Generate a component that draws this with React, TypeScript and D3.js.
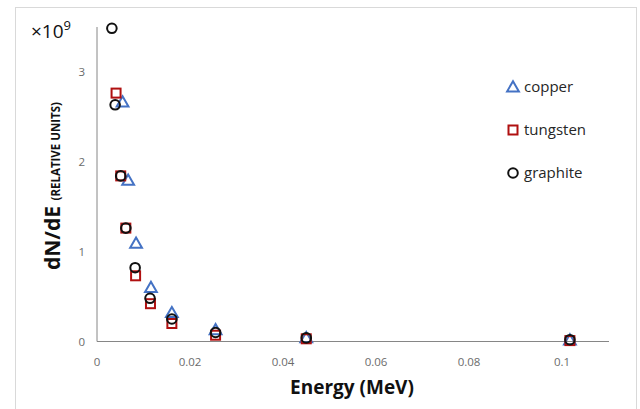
import React from "react";
import * as d3 from "d3";

const copperX = [0.0055, 0.0067, 0.0084, 0.0116, 0.0161, 0.0255, 0.045, 0.1017];
const copperY = [2.66, 1.79, 1.09, 0.6, 0.32, 0.13, 0.04, 0.015];
const tungstenX = [0.0041, 0.0051, 0.0062, 0.0083, 0.0115, 0.0161, 0.0255, 0.045, 0.1017];
const tungstenY = [2.76, 1.84, 1.26, 0.73, 0.42, 0.2, 0.07, 0.03, 0.01];
const graphiteX = [0.0032, 0.0039, 0.0051, 0.0062, 0.0082, 0.0114, 0.0161, 0.0255, 0.045, 0.1017];
const graphiteY = [3.48, 2.63, 1.84, 1.26, 0.82, 0.48, 0.25, 0.1, 0.04, 0.02];
const xTicks = [0, 0.02, 0.04, 0.06, 0.08, 0.1];
const yTicks = [0, 1, 2, 3];
const seriesNames = ["copper", "tungsten", "graphite"];
const colors = ["#4472C4", "#B01010", "#111111"];

const W = 640, H = 409;
const left = 97, right = 609, top = 27, bottom = 341.5;

export default function App() {
  const x = d3.scaleLinear().domain([0, 0.1]).range([left, 562]);
  const y = d3.scaleLinear().domain([0, 1]).range([bottom, bottom - 90]);
  const font = "'Open Sans', 'Liberation Sans', sans-serif";
  const triPath = d3.symbol(d3.symbolTriangle, 60)()!;

  const marker = (kind: number, cx: number, cy: number, key: string) => {
    if (kind === 0)
      return <path key={key} d={triPath} transform={`translate(${cx},${cy + 1})`} fill="none" stroke={colors[0]} strokeWidth={2} />;
    if (kind === 1)
      return <rect key={key} x={cx - 4.5} y={cy - 4.5} width={9} height={9} fill="none" stroke={colors[1]} strokeWidth={2} />;
    return <circle key={key} cx={cx} cy={cy} r={4.8} fill="none" stroke={colors[2]} strokeWidth={2} />;
  };

  const data = [
    [copperX, copperY],
    [tungstenX, tungstenY],
    [graphiteX, graphiteY],
  ];
  const order = [0, 1, 2];

  return (
    <svg width={W} height={H} style={{ position: "absolute", left: 0, top: 0, background: "#fff" }}>
      <rect x={15.5} y={7.5} width={621} height={410} fill="#fff" stroke="#D9D9D9" strokeWidth={1} />
      {/* axes */}
      <line x1={left} x2={left} y1={top} y2={bottom} stroke="#868686" strokeWidth={1} />
      <line x1={left} x2={right} y1={bottom} y2={bottom} stroke="#868686" strokeWidth={1} />
      {yTicks.map((t) => (
        <text key={"y" + t} x={85} y={y(t)} dy="0.35em" textAnchor="end" fontSize={11.5} fill="#6b6b6b" fontFamily={font}>{t}</text>
      ))}
      {xTicks.map((t) => (
        <text key={"x" + t} x={x(t)} y={362} dy="0.35em" textAnchor="middle" fontSize={11.5} fill="#6b6b6b" fontFamily={font}>{d3.format("")(t)}</text>
      ))}
      <text x={31} y={38} fontSize={19} fill="#111" fontFamily={font}>×10<tspan dy={-8} fontSize={13}>9</tspan></text>
      <text transform={`translate(60,${186}) rotate(-90)`} textAnchor="middle" fontFamily={font} fill="#111" fontWeight="bold">
        <tspan fontSize={21}>dN/dE </tspan>
        <tspan fontSize={11.5}>(RELATIVE UNITS)</tspan>
      </text>
      <text x={352} y={394} textAnchor="middle" fontSize={19} fontWeight="bold" fill="#111" fontFamily={font}>Energy (MeV)</text>
      {order.map((k) =>
        data[k][0].map((xv, i) => marker(k, x(xv), y(data[k][1][i]), `${k}-${i}`))
      )}
      {seriesNames.map((n, k) => (
        <g key={n}>
          {marker(k, 513, 87 + k * 43, "l" + k)}
          <text x={524} y={87 + k * 43} dy="0.35em" fontSize={15} fill="#262626" fontFamily={font}>{n}</text>
        </g>
      ))}
    </svg>
  );
}
